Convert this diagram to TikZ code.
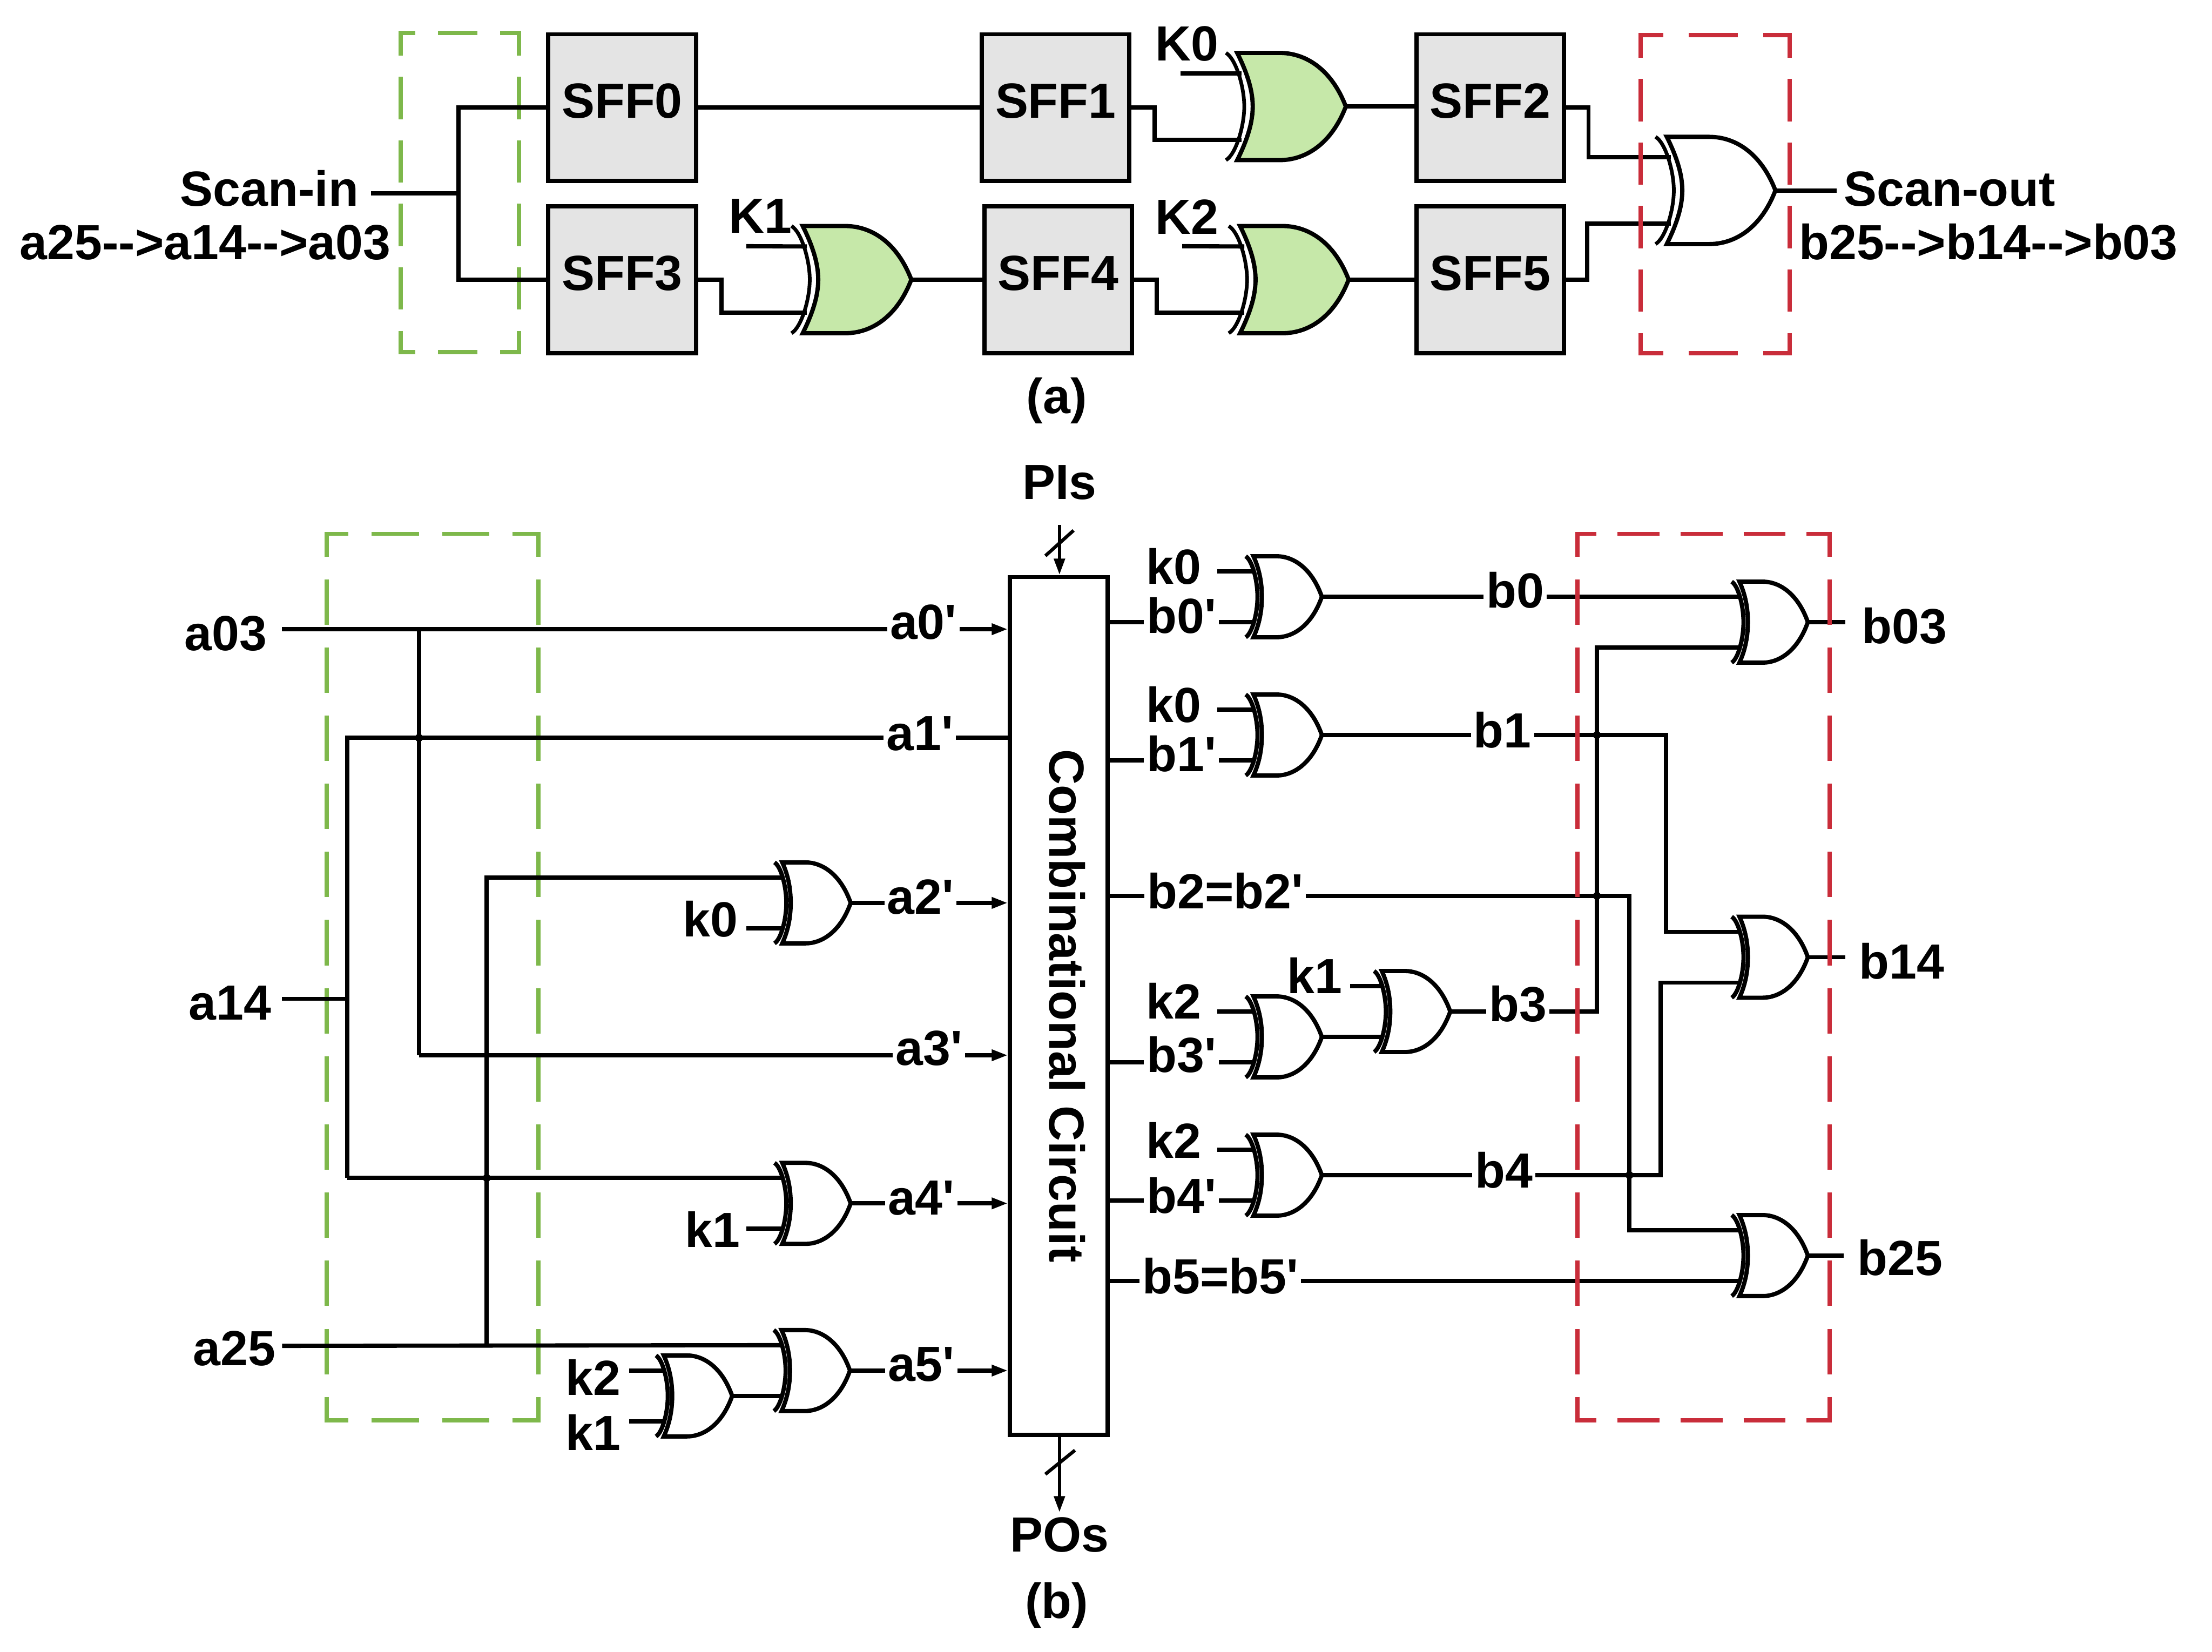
\documentclass[tikz,border=0pt]{standalone}
\usepackage{fontspec}
\setmainfont{Liberation Sans}[Ligatures=TeXOff]
\usetikzlibrary{arrows.meta,calc}
\definecolor{gfill}{HTML}{C6E8A9}
\definecolor{boxgray}{HTML}{E4E4E4}
\definecolor{dgreen}{HTML}{7EB84B}
\definecolor{dred}{HTML}{C92D3A}
\newcommand{\dashrect}[9]{%
  \pgfmathsetmacro\hph{#6-#8}%
  \draw[#1,line width=3pt,dash pattern=on #6pt off #7pt,dash phase=\hph pt] (#2-1.5,#3)--(#4+1.5,#3);
  \draw[#1,line width=3pt,dash pattern=on #6pt off #7pt,dash phase=\hph pt] (#2-1.5,#5)--(#4+1.5,#5);
  \draw[#1,line width=3pt,#9] (#2,#3)--(#2,#5);
  \draw[#1,line width=3pt,#9] (#4,#3)--(#4,#5);
}
\tikzset{
  wire/.style={line width=3pt,black},
  arrowwire/.style={wire,-{Triangle[length=11.5pt,width=7.5pt]}},
  jdot/.style={circle,fill=black,inner sep=0pt,minimum size=5.6pt},
  txt/.style={inner sep=0pt,anchor=base,font=\fontsize{35}{35}\selectfont\bfseries,text=black},
  wtxt/.style={txt,fill=white,inner sep=2pt},
  sffbox/.style={draw=black,line width=3pt,fill=boxgray,minimum width=104.6pt,minimum height=104pt,inner sep=0pt,text height=25pt,text depth=10pt,font=\fontsize{35}{35}\selectfont\bfseries},
  vda/.style={dash pattern=on 30pt off 15pt,dash phase=14pt},
  vdb/.style={dash pattern=on 32.2pt off 16.1pt,dash phase=16.1pt},
  pics/xorg/.style={code={
    \draw[line width=3pt,fill=#1,line join=miter] (-77,-38) -- (-47,-38) .. controls (-28,-38) and (-10,-26) .. (0,0) .. controls (-10,26) and (-28,38) .. (-47,38) -- (-77,38) .. controls (-69,22) and (-66,10) .. (-66,0) .. controls (-66,-10) and (-69,-22) .. (-77,-38) -- cycle;
    \draw[line width=2.6pt] (-85,-38) .. controls (-78,-34) and (-72,-14) .. (-72,0) .. controls (-72,14) and (-78,34) .. (-85,38);
    \coordinate (-i1) at (-74,-23.5);
    \coordinate (-i2) at (-74,23.5);
    \coordinate (-o) at (0,0);
  }},
  pics/org/.style={code={
    \draw[line width=3pt,fill=white] (-48.5,-28.7) -- (-32,-28.7) .. controls (-20,-28.7) and (-7,-20) .. (0,0) .. controls (-7,20) and (-20,28.7) .. (-32,28.7) -- (-48.5,28.7) .. controls (-44,19) and (-42.5,9) .. (-42.5,0) .. controls (-42.5,-9) and (-44,-19) .. (-48.5,-28.7) -- cycle;
    \draw[line width=3pt] (-54,-28.7) .. controls (-49.5,-26) and (-45.6,-12) .. (-45.6,0) .. controls (-45.6,12) and (-49.5,26) .. (-54,28.7);
    \coordinate (-i1) at (-47,-18);
    \coordinate (-i2) at (-47,18);
    \coordinate (-o) at (0,0);
  }},
}
\begin{document}
\begin{tikzpicture}[x=1pt,y=-1pt]
\useasboundingbox (0,0) rectangle (1568,1171);
% ---------- green dashed boxes
\dashrect{dgreen}{284}{23.5}{368}{249.5}{28}{16}{12}{vda}
\dashrect{dgreen}{231.6}{378.4}{381.6}{1006.7}{33.5}{16.5}{16.8}{vdb}
% ---------- (a) blocks
\node[sffbox] (sff0) at (441,76.3) {SFF0};
\node[sffbox] (sff1) at (748.3,76.3) {SFF1};
\node[sffbox] (sff2) at (1056.3,76.3) {SFF2};
\node[sffbox] (sff3) at (441,198.2) {SFF3};
\node[sffbox] (sff4) at (750,198.2) {SFF4};
\node[sffbox] (sff5) at (1056.3,198.2) {SFF5};
\pic (xg0) at (954,75.5) {xorg=gfill};
\pic (xg1) at (646,198.2) {xorg=gfill};
\pic (xg2) at (956,198.2) {xorg=gfill};
\pic (xo) at (1258.5,135) {xorg=white};
\coordinate (scanj) at (325,137);
\coordinate (scane) at (263,137);
\coordinate (scanoe) at (1302,135);
\coordinate (k0a) at (837,52);
\coordinate (k1a) at (529,174.5);
\coordinate (k2a) at (838,174.5);
\coordinate (b1a) at (818.5,76.3);
\coordinate (b2a) at (511.5,198.2);
\coordinate (b3a) at (820,198.2);
\coordinate (b4a) at (1126,76.3);
\coordinate (b5a) at (1125,198.2);
\draw[wire] (scane) -- (scanj);
\draw[wire] (sff0.west) -| (scanj) |- (sff3.west);
\draw[wire] (sff0.east) -- (sff1.west);
\draw[wire] (sff1.east) -- (b1a) |- (xg0-i2);
\draw[wire] (k0a) -- (xg0-i1);
\draw[wire] (xg0-o) -- (sff2.west |- xg0-o);
\draw[wire] (sff3.east) -- (b2a) |- (xg1-i2);
\draw[wire] (k1a) -- (xg1-i1);
\draw[wire] (xg1-o) -- (sff4.west);
\draw[wire] (sff4.east) -- (b3a) |- (xg2-i2);
\draw[wire] (k2a) -- (xg2-i1);
\draw[wire] (xg2-o) -- (sff5.west);
\draw[wire] (sff2.east) -- (b4a) |- (xo-i1);
\draw[wire] (sff5.east) -- (b5a) |- (xo-i2);
\draw[wire] (xo-o) -- (scanoe);
\node[txt] (tscanin) at (191,146) {Scan-in};
\node[txt] (tseqa) at (145.5,184) {a25-{}->a14-{}->a03};
\node[txt] (tscanout) at (1382,146) {Scan-out};
\node[txt] (tseqb) at (1409.5,184) {b25-{}->b14-{}->b03};
\node[txt] (tk0a) at (841.5,43) {K0};
\node[txt] (tk1a) at (539,165) {K1};
\node[txt] (tk2a) at (841.5,166) {K2};
\node[txt] (tcapa) at (749,293) {(a)};
% ---------- (b) central block
\node[draw=black,line width=3pt,fill=white,minimum width=69pt,minimum height=608pt,inner sep=0pt] (cc) at (750.5,713) {};
\node[txt,rotate=-90] (tcc) at (744,713) {Combinational Circuit};
% ---------- (b) gates
\pic (ga2) at (603,640) {org};
\pic (ga4) at (603,853) {org};
\pic (ga5) at (602.5,971.5) {org};
\pic (gk) at (519,989.5) {org};
\pic (gb0) at (937,423) {org};
\pic (gb1) at (937,521) {org};
\pic (gb3) at (937,735) {org};
\pic (gb3k) at (1028,717) {org};
\pic (gb4) at (937,833) {org};
\pic (go0) at (1281.5,441) {org};
\pic (go1) at (1281.5,678.5) {org};
\pic (go2) at (1281.5,890) {org};
% ---------- (b) named wire ends
\coordinate (a03e) at (200,446);
\coordinate (a14e) at (200,708);
\coordinate (a25e) at (200,954);
\coordinate (a1v) at (246,708);
\coordinate (a03v) at (297,446);
\coordinate (a25v) at (345,954);
\coordinate (a1top) at (246,523);
\coordinate (a3low) at (297,748);
\coordinate (pis) at (751,372);
\coordinate (pos) at (751,1072);
\coordinate (piss1) at (741,394);
\coordinate (piss2) at (761,376);
\coordinate (poss1) at (741,1045);
\coordinate (poss2) at (762,1028);
\coordinate (k0l) at (529,658);
\coordinate (k1l) at (529,871);
\coordinate (k2l) at (446,971.5);
\coordinate (k1ll) at (446,1007.5);
\coordinate (k0r) at (863,405);
\coordinate (k0rr) at (863,503);
\coordinate (k2r) at (863,717);
\coordinate (k1r) at (957,699);
\coordinate (k2rr) at (863,815);
\coordinate (b0s) at (786,441);
\coordinate (b1s) at (786,539);
\coordinate (b2s) at (786,635);
\coordinate (b3s) at (786,753);
\coordinate (b4s) at (786,851);
\coordinate (b5s) at (786,908);
\coordinate (b1h) at (1181,521);
\coordinate (b2h) at (1155,635);
\coordinate (b3h) at (1132,717);
\coordinate (b4h) at (1177,833);
\coordinate (o0e) at (1308,441);
\coordinate (o1e) at (1308,678.5);
\coordinate (o2e) at (1307,890);
% ---------- (b) left wires
\draw[arrowwire] (a03e) -- (a03e -| cc.west);
\draw[wire] (a14e) -- (a1v);
\draw[wire] (a3low |- a03v) -- (a3low);
\draw[arrowwire] (a3low) -- (a3low -| cc.west);
\draw[wire] (a1top |- ga4-i1) -- (a1top) -- (a1top -| cc.west);
\draw[wire] (a1top |- ga4-i1) -- (ga4-i1);
\draw[wire] (a25e) -- (ga5-i1);
\draw[wire] (a25v) |- (ga2-i1);
\draw[arrowwire] (ga2-o) -- (ga2-o -| cc.west);
\draw[arrowwire] (ga4-o) -- (ga4-o -| cc.west);
\draw[arrowwire] (ga5-o) -- (ga5-o -| cc.west);
\draw[wire] (gk-o) -- (ga5-i2);
\draw[wire] (k0l) -- (ga2-i2);
\draw[wire] (k1l) -- (ga4-i2);
\draw[wire] (k2l) -- (gk-i1);
\draw[wire] (k1ll) -- (gk-i2);
\draw[arrowwire,line width=2.4pt] (pis) -- (pis |- cc.north);
\draw[wire,line width=2.4pt] (piss1) -- (piss2);
\draw[arrowwire,line width=2.4pt] (pos |- cc.south) -- (pos);
\draw[wire,line width=2.4pt] (poss1) -- (poss2);
% ---------- (b) right wires
\draw[wire] (b0s) -- (gb0-i2);
\draw[wire] (k0r) -- (gb0-i1);
\draw[wire] (b1s) -- (gb1-i2);
\draw[wire] (k0rr) -- (gb1-i1);
\draw[wire] (b3s) -- (gb3-i2);
\draw[wire] (k2r) -- (gb3-i1);
\draw[wire] (k1r) -- (gb3k-i1);
\draw[wire] (gb3-o) -- (gb3k-i2);
\draw[wire] (b4s) -- (gb4-i2);
\draw[wire] (k2rr) -- (gb4-i1);
\draw[wire] (gb0-o) -- (go0-i1);
\draw[wire] (gb1-o) -- (b1h) |- (go1-i1);
\draw[wire] (b2s) -- (b2h) |- (go2-i1);
\draw[wire] (gb3k-o) -- (b3h) |- (go0-i2);
\draw[wire] (gb4-o) -- (b4h) |- (go1-i2);
\draw[wire] (b5s) -- (go2-i2);
\draw[wire] (go0-o) -- (o0e);
\draw[wire] (go1-o) -- (o1e);
\draw[wire] (go2-o) -- (o2e);
% ---------- crossing marks
\node[jdot] (j1) at (297,523) {};
\node[jdot] (j2) at (345,835) {};
\node[jdot] (j3) at (1132,521) {};
\node[jdot] (j4) at (1132,635) {};
\node[jdot] (j5) at (1155,833) {};
% ---------- (b) texts
\node[txt] (tpis) at (751,354) {PIs};
\node[txt] (tpos) at (751,1100) {POs};
\node[txt] (tcapb) at (749,1147) {(b)};
\node[txt] (ta03) at (160,461) {a03};
\node[txt] (ta14) at (163,723) {a14};
\node[txt] (ta25) at (166,968) {a25};
\node[wtxt] (ta0) at (654.5,453) {a0'};
\node[wtxt] (ta1) at (652,532) {a1'};
\node[wtxt] (ta2) at (652.5,648) {a2'};
\node[wtxt] (ta3) at (658.5,755) {a3'};
\node[wtxt] (ta4) at (653,861) {a4'};
\node[wtxt] (ta5) at (653,979) {a5'};
\node[txt] (tk0l) at (503.5,664) {k0};
\node[txt] (tk1l) at (505,884) {k1};
\node[txt] (tk2l) at (420.5,989) {k2};
\node[txt] (tk1ll) at (420.5,1028) {k1};
\node[txt] (tk0r) at (832,414) {k0};
\node[wtxt] (tb0p) at (837.5,449) {b0'};
\node[txt] (tk0rr) at (832,512) {k0};
\node[wtxt] (tb1p) at (837.5,547) {b1'};
\node[wtxt] (tb2p) at (868.5,644) {b2=b2'};
\node[txt] (tk2r) at (832,722) {k2};
\node[wtxt] (tb3p) at (837.5,760) {b3'};
\node[txt] (tk1r) at (932,704) {k1};
\node[txt] (tk2rr) at (832,821) {k2};
\node[wtxt] (tb4p) at (837.5,860) {b4'};
\node[wtxt] (tb5p) at (865,917) {b5=b5'};
\node[wtxt] (tb0) at (1074,431) {b0};
\node[wtxt] (tb1) at (1065,530) {b1};
\node[wtxt] (tb3) at (1076,724) {b3};
\node[wtxt] (tb4) at (1066,842) {b4};
\node[txt] (to0) at (1350,456) {b03};
\node[txt] (to1) at (1348,694) {b14};
\node[txt] (to2) at (1347,904) {b25};
% ---------- red dashed boxes
\dashrect{dred}{1163}{25}{1268.5}{250.5}{35}{18}{17.5}{vda}
\dashrect{dred}{1118.1}{378.4}{1296.9}{1006.7}{29.8}{14.9}{15}{vdb}
\end{tikzpicture}
\end{document}
